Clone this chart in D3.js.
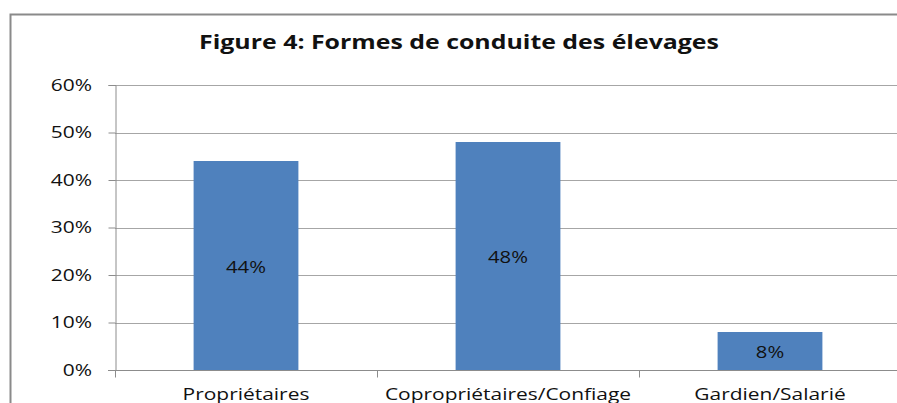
<!DOCTYPE html>
<html>
<head>
<meta charset="utf-8">
<script src="https://cdn.jsdelivr.net/npm/d3@7"></script>
<style>
  body { margin: 0; background: #fff; }
  .grid line { stroke: #a6a6a6; stroke-width: 1; }
  text { font-family: "Open Sans", sans-serif; fill: #111; }
  .axis text { font-size: 16.5px; }
  .axis path, .axis line { stroke: #8c8c8c; }
</style>
</head>
<body>
<svg id="chart" width="897" height="403"></svg>
<script>
// chart data
var title = "Figure 4: Formes de conduite des élevages";
var categories = ["Propriétaires", "Copropriétaires/Confiage", "Gardien/Salarié"];
var values = [0.44, 0.48, 0.08];
var labels = ["44%", "48%", "8%"];
var y_ticks = [0, 0.1, 0.2, 0.3, 0.4, 0.5, 0.6];

var svg = d3.select("#chart");
var left = 115, right = 901, top_ = 85, bottom = 370;
var stretch = 1.27;   // the source text is wide, stretch it horizontally

function place(x, y) {
    return "translate(" + x + "," + y + ") scale(" + stretch + ",1)";
}

// outer frame (runs past the right and bottom edges)
svg.append("rect")
    .attr("x", 10.5).attr("y", 14.5)
    .attr("width", 1000).attr("height", 500)
    .attr("fill", "none")
    .attr("stroke", "#8a8a8a")
    .attr("stroke-width", 2);

svg.append("text")
    .attr("transform", place(459, 49))
    .attr("text-anchor", "middle")
    .style("font-weight", "bold")
    .style("font-size", "19.6px")
    .text(title);

var x = d3.scaleBand().domain(categories).range([left, right]).paddingInner(0.6).paddingOuter(0.3);
var y = d3.scaleLinear().domain([0, 0.6]).range([bottom, top_]);

// gridlines
svg.append("g").attr("class", "grid")
    .selectAll("line")
    .data(y_ticks.slice(1))
    .enter().append("line")
    .attr("x1", left).attr("x2", 897)
    .attr("y1", function(d) { return Math.round(y(d)) + 0.5; })
    .attr("y2", function(d) { return Math.round(y(d)) + 0.5; });

// bars
svg.selectAll(".bar")
    .data(values)
    .enter().append("rect")
    .attr("class", "bar")
    .attr("x", function(d, i) { return x(categories[i]); })
    .attr("y", function(d) { return y(d); })
    .attr("width", x.bandwidth())
    .attr("height", function(d) { return bottom - y(d); })
    .attr("fill", "#4f81bd");

svg.selectAll(".lbl")
    .data(values)
    .enter().append("text")
    .attr("class", "lbl")
    .attr("transform", function(d, i) {
        return place(x(categories[i]) + x.bandwidth() / 2, (y(d) + bottom) / 2 + 7);
    })
    .attr("text-anchor", "middle")
    .style("font-size", "16px")
    .text(function(d, i) { return labels[i]; });

// y axis
var yAxis = svg.append("g").attr("class", "axis")
    .attr("transform", "translate(" + (left + 0.5) + ",0)")
    .call(d3.axisLeft(y).tickValues(y_ticks).tickFormat(d3.format(".0%"))
        .tickSizeOuter(0).tickSize(7).tickPadding(11.5));
yAxis.selectAll(".tick text").attr("transform", "scale(" + stretch + ",1)");

// x axis with ticks between categories
var xb = d3.scaleLinear().domain([0, 3]).range([left, right]);
var xAxis = svg.append("g").attr("class", "axis")
    .attr("transform", "translate(0," + (bottom + 0.5) + ")");
xAxis.append("line").attr("x1", left - 7).attr("x2", 897).attr("stroke", "#8c8c8c");
xAxis.selectAll(".tk")
    .data([0, 1, 2, 3])
    .enter().append("line")
    .attr("x1", function(d) { return Math.round(xb(d)) + 0.5; })
    .attr("x2", function(d) { return Math.round(xb(d)) + 0.5; })
    .attr("y1", 0).attr("y2", 7)
    .attr("stroke", "#8c8c8c");
xAxis.selectAll(".cat")
    .data(categories)
    .enter().append("text")
    .attr("transform", function(d) { return place(x(d) + x.bandwidth() / 2, 29.5); })
    .attr("text-anchor", "middle")
    .text(function(d) { return d; });
</script>
</body>
</html>
